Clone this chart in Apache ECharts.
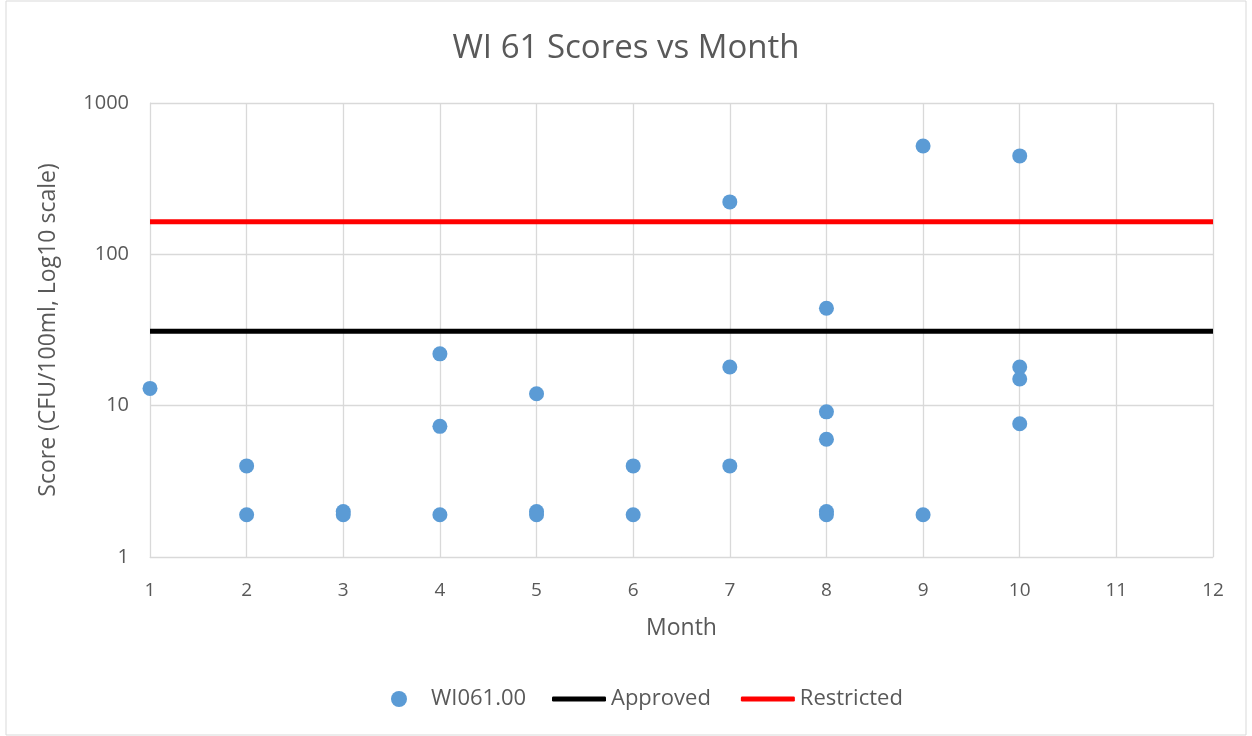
<!DOCTYPE html>
<html>
<head>
<meta charset="utf-8">
<script src="https://cdn.jsdelivr.net/npm/echarts@6/dist/echarts.min.js"></script>
<style>
  html, body { margin: 0; padding: 0; background: #fff; }
  #chart { width: 1252px; height: 736px; }
</style>
</head>
<body>
<div id="chart"></div>
<script>
// sample scores, month / CFU per 100ml
var months = [1, 2, 2, 3, 3, 4, 4, 4, 5, 5, 5, 6, 6, 7, 7, 7, 8, 8, 8, 8, 8, 9, 9, 10, 10, 10, 10];
var scores = [13, 4, 1.9, 2, 1.9, 22, 7.3, 1.9, 12, 2, 1.9, 4, 1.9, 222, 18, 4, 44, 9.1, 6, 2, 1.9, 520, 1.9, 447, 18, 15, 7.6];
var limitX = [1, 12];
var approved = [31, 31];
var restricted = [164, 164];

var pairs = function (xs, ys) {
    var out = [];
    for (var i = 0; i < xs.length; i++) {
        out.push([xs[i], ys[i]]);
    }
    return out;
};

var txt = '#595959';
var font = 'Open Sans';
var legendText = { fontSize: 22, color: txt, fontFamily: font, lineHeight: 26 };

var chart = echarts.init(document.getElementById('chart'));
var option = {
    backgroundColor: '#fff',
    textStyle: { fontFamily: font },
    title: {
        text: 'WI 61 Scores vs Month',
        left: 'center',
        top: 27,
        textStyle: { fontSize: 33, fontWeight: 'normal', color: txt, fontFamily: font }
    },
    graphic: [{
        type: 'rect',
        shape: { x: 6, y: 1, width: 1240, height: 734 },
        style: { fill: 'none', stroke: '#d9d9d9', lineWidth: 1 },
        silent: true
    }],
    // two legends so the line keys can be flat bars
    legend: [{
        left: 386,
        top: 681,
        itemWidth: 54,
        itemHeight: 16,
        textStyle: legendText,
        data: [{ name: 'WI061.00', icon: 'circle' }]
    }, {
        left: 547,
        top: 681,
        itemWidth: 54,
        itemHeight: 5,
        itemGap: 30,
        textStyle: legendText,
        data: [
            { name: 'Approved', icon: 'roundRect' },
            { name: 'Restricted', icon: 'roundRect' }
        ]
    }],
    grid: { left: 150, right: 39, top: 103, bottom: 179 },
    xAxis: {
        type: 'value',
        min: 1,
        max: 12,
        interval: 1,
        name: 'Month',
        nameLocation: 'middle',
        nameGap: 60,
        nameTextStyle: { fontSize: 23, color: txt },
        axisLine: { lineStyle: { color: '#d9d9d9' } },
        axisTick: { show: false },
        axisLabel: { fontSize: 19, color: txt, margin: 24 },
        splitLine: { lineStyle: { color: '#d9d9d9', width: 1.3 } }
    },
    yAxis: {
        type: 'log',
        logBase: 10,
        min: 1,
        max: 1000,
        name: 'Score (CFU/100ml, Log10 scale)',
        nameLocation: 'middle',
        nameGap: 90,
        nameTextStyle: { fontSize: 23, color: txt },
        axisLine: { show: true, lineStyle: { color: '#d9d9d9' } },
        axisTick: { show: false },
        axisLabel: {
            fontSize: 20,
            color: txt,
            margin: 21,
            formatter: function (v) { return String(Math.round(v)); }
        },
        splitLine: { lineStyle: { color: '#d9d9d9', width: 1.3 } },
        minorSplitLine: { show: false }
    },
    series: [{
        name: 'WI061.00',
        type: 'scatter',
        symbol: 'circle',
        symbolSize: 15,
        itemStyle: { color: '#5b9bd5', opacity: 1 },
        data: pairs(months, scores),
        z: 5
    }, {
        name: 'Approved',
        type: 'line',
        showSymbol: false,
        symbol: 'none',
        lineStyle: { color: '#000', width: 5 },
        itemStyle: { color: '#000' },
        data: pairs(limitX, approved),
        z: 3
    }, {
        name: 'Restricted',
        type: 'line',
        showSymbol: false,
        symbol: 'none',
        lineStyle: { color: '#ff0000', width: 5 },
        itemStyle: { color: '#ff0000' },
        data: pairs(limitX, restricted),
        z: 3
    }]
};
chart.setOption(option);
</script>
</body>
</html>
